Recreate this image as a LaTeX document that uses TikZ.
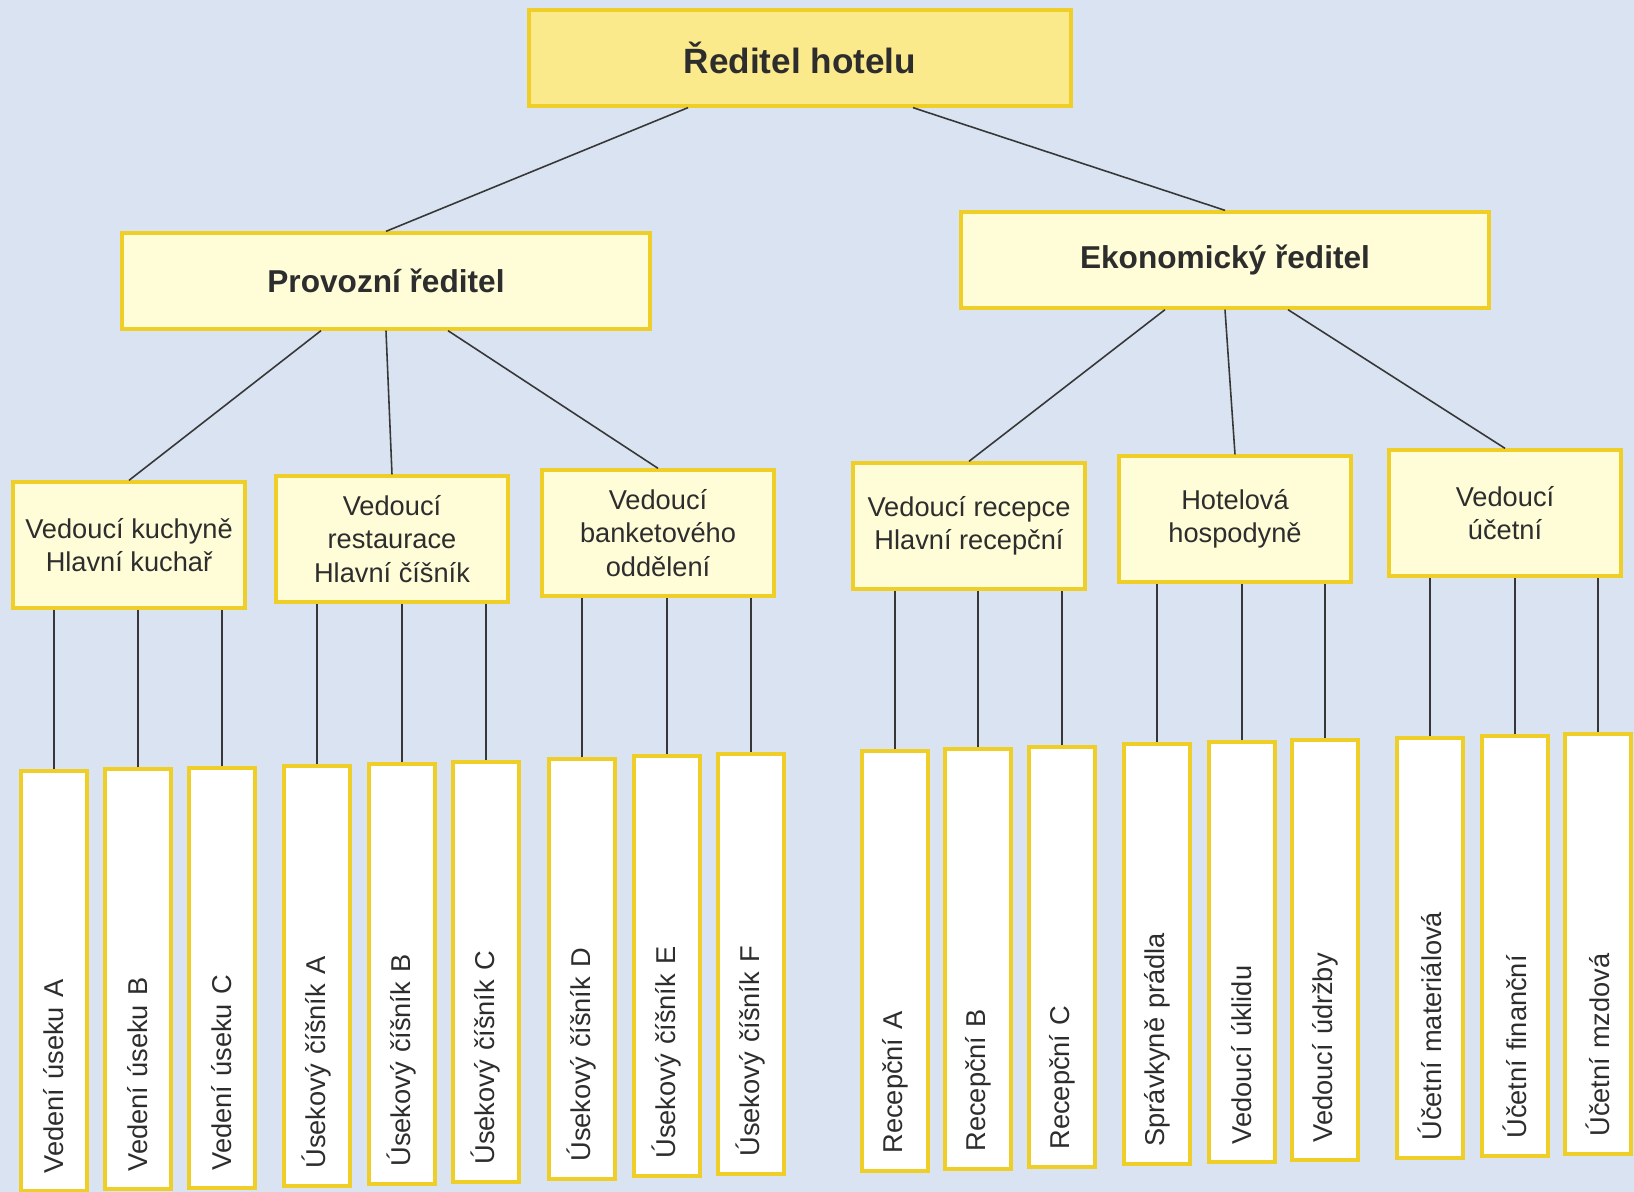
\documentclass[tikz,border=0pt]{standalone}
\usepackage{fontspec}
\setmainfont{Liberation Sans}
\definecolor{bgblue}{RGB}{217,227,242}
\definecolor{topyellow}{RGB}{251,234,140}
\definecolor{cream}{RGB}{255,252,216}
\definecolor{boxline}{RGB}{240,206,40}
\definecolor{linegray}{RGB}{55,55,55}
\definecolor{txt}{RGB}{45,45,45}

\begin{document}
\begin{tikzpicture}[x=0.02cm, y=-0.02cm,
	box/.style={draw=boxline, line width=1.9pt, align=center, text=txt, inner sep=0pt},
	director/.style={box, fill=topyellow, minimum width=10.84cm, minimum height=1.92cm, font=\fontsize{20}{24}\selectfont\bfseries},
	deputy/.style={box, fill=cream, minimum width=10.56cm, minimum height=1.92cm, font=\fontsize{18}{22}\selectfont\bfseries},
	head/.style={box, fill=cream, minimum width=4.64cm, minimum height=2.52cm, font=\fontsize{15.5}{19}\selectfont},
	staff/.style={box, fill=white, rotate=90, minimum width=8.4cm, minimum height=1.32cm, text width=7.7cm, align=left, inner xsep=0.35cm, font=\fontsize{15.5}{19}\selectfont},
	link/.style={draw=linegray, line width=0.9pt}]

	\fill[bgblue] (0,0) rectangle (1634,1192);
	\useasboundingbox (0,0) rectangle (1634,1192);

	% top
	\node [director] (ceo) at (800,58) {Ředitel hotelu};
	\node [deputy] (prov) at (386,281) {Provozní ředitel};
	\node [deputy] (eko) at (1225,260) {Ekonomický ředitel};

	% heads of departments
	\node [head] (kuch) at (129,545) {Vedoucí kuchyně \\ Hlavní kuchař};
	\node [head] (rest) at (392,539) {Vedoucí \\ restaurace \\ Hlavní číšník};
	\node [head] (bank) at (658,533) {Vedoucí \\ banketového \\ oddělení};
	\node [head] (rec) at (969,526) {Vedoucí recepce \\ Hlavní recepční};
	\node [head] (hosp) at (1235,519) {Hotelová \\ hospodyně};
	\node [head] (uct) at (1505,513) {Vedoucí \\ účetní};

	% staff
	\node [staff] (s1) at (54,981) {Vedení úseku A};
	\node [staff] (s2) at (138,979) {Vedení úseku B};
	\node [staff] (s3) at (222,978) {Vedení úseku C};
	\node [staff] (s4) at (317,976) {Úsekový číšník A};
	\node [staff] (s5) at (402,974) {Úsekový číšník B};
	\node [staff] (s6) at (486,972) {Úsekový číšník C};
	\node [staff] (s7) at (582,969) {Úsekový číšník D};
	\node [staff] (s8) at (667,966) {Úsekový číšník E};
	\node [staff] (s9) at (751,964) {Úsekový číšník F};
	\node [staff] (s10) at (895,961) {Recepční A};
	\node [staff] (s11) at (978,959) {Recepční B};
	\node [staff] (s12) at (1062,957) {Recepční C};
	\node [staff] (s13) at (1157,954) {Správkyně prádla};
	\node [staff] (s14) at (1242,952) {Vedoucí úklidu};
	\node [staff] (s15) at (1325,950) {Vedoucí údržby};
	\node [staff] (s16) at (1430,948) {Účetní materiálová};
	\node [staff] (s17) at (1515,946) {Účetní finanční};
	\node [staff] (s18) at (1598,944) {Účetní mzdová};

	% connectors
	\draw [link] ([xshift=-2.24cm]ceo.south) -- (prov.north);
	\draw [link] ([xshift=2.26cm]ceo.south) -- (eko.north);

	\draw [link] ([xshift=-1.3cm]prov.south) -- (kuch.north);
	\draw [link] (prov.south) -- (rest.north);
	\draw [link] ([xshift=1.24cm]prov.south) -- (bank.north);
	\draw [link] ([xshift=-1.2cm]eko.south) -- (rec.north);
	\draw [link] (eko.south) -- (hosp.north);
	\draw [link] ([xshift=1.26cm]eko.south) -- (uct.north);

	\draw [link] (s1.east) -- (s1.east |- kuch.south);
	\draw [link] (s2.east) -- (s2.east |- kuch.south);
	\draw [link] (s3.east) -- (s3.east |- kuch.south);
	\draw [link] (s4.east) -- (s4.east |- rest.south);
	\draw [link] (s5.east) -- (s5.east |- rest.south);
	\draw [link] (s6.east) -- (s6.east |- rest.south);
	\draw [link] (s7.east) -- (s7.east |- bank.south);
	\draw [link] (s8.east) -- (s8.east |- bank.south);
	\draw [link] (s9.east) -- (s9.east |- bank.south);
	\draw [link] (s10.east) -- (s10.east |- rec.south);
	\draw [link] (s11.east) -- (s11.east |- rec.south);
	\draw [link] (s12.east) -- (s12.east |- rec.south);
	\draw [link] (s13.east) -- (s13.east |- hosp.south);
	\draw [link] (s14.east) -- (s14.east |- hosp.south);
	\draw [link] (s15.east) -- (s15.east |- hosp.south);
	\draw [link] (s16.east) -- (s16.east |- uct.south);
	\draw [link] (s17.east) -- (s17.east |- uct.south);
	\draw [link] (s18.east) -- (s18.east |- uct.south);
\end{tikzpicture}
\end{document}
